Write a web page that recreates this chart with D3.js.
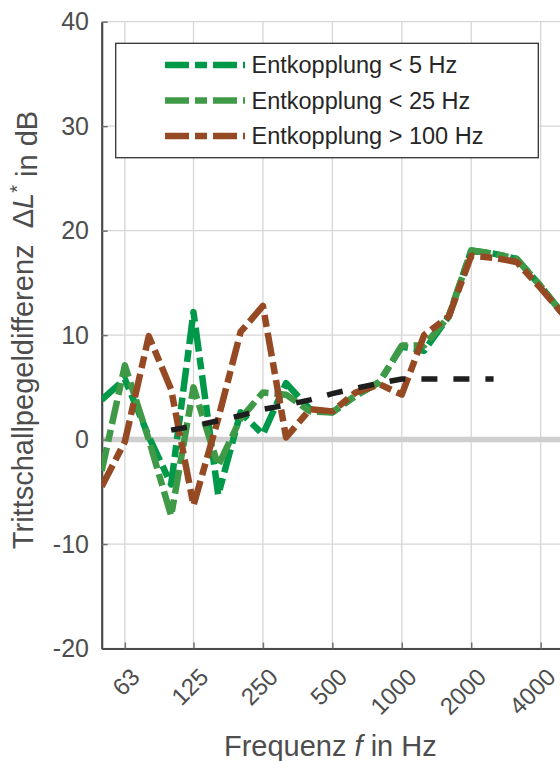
<!DOCTYPE html>
<html>
<head>
<meta charset="utf-8">
<script src="https://cdn.jsdelivr.net/npm/d3@7/dist/d3.min.js"></script>
<style>
body { margin: 0; background: #fff; }
svg { display: block; font-family: "Liberation Sans", Arial, sans-serif; }
</style>
</head>
<body>
<div id="chart"></div>
<script>
// Terzbänder in Hz
var baender = [50, 63, 80, 100, 125, 160, 200, 250, 315, 400, 500, 630, 800, 1000, 1250, 1600, 2000, 2500, 3150, 4000, 5000];

// Trittschallpegeldifferenz je Variante (dB)
var entkopplung5 = [3.8, 5.8, 0.3, -4.3, 12.2, -5.3, 2.6, 0.5, 5.4, 2.9, 2.6, 4.2, 5.5, 8.9, 8.5, 11.8, 18.1, 17.8, 17.3, 14.7, 12.0];
var entkopplung25 = [-3.0, 7.1, 0.0, -7.3, 5.0, -2.5, 2.0, 4.5, 4.3, 2.7, 2.6, 4.2, 5.5, 9.0, 9.0, 11.8, 18.1, 17.8, 17.3, 14.7, 12.0];
var entkopplung100 = [-4.5, -0.2, 9.9, 4.8, -6.3, 2.0, 10.3, 12.8, 0.2, 2.9, 2.7, 4.5, 5.3, 4.3, 10.0, 11.8, 17.6, 17.4, 17.0, 14.5, 12.0];

// schwarze Bezugskurve
var bezugBaender = [100, 125, 160, 200, 250, 315, 400, 500, 630, 800, 1000, 1250, 1600, 2000, 2500];
var bezugWerte = [0.9, 1.3, 1.8, 2.3, 2.9, 3.3, 3.8, 4.4, 4.9, 5.4, 5.8, 5.8, 5.8, 5.8, 5.8];

var xTicks = [63, 125, 250, 500, 1000, 2000, 4000];
var yTicks = [-20, -10, 0, 10, 20, 30, 40];
var legendeTexte = ["Entkopplung < 5 Hz", "Entkopplung < 25 Hz", "Entkopplung > 100 Hz"];
var farben = ["#00994a", "#3f9a47", "#964a23"];

// Dimensionen
var margin = {top: 21.7, left: 101.7};
var width = 461.3;
var height = 626.8;

var svg = d3.select('#chart').append('svg')
  .attr('width', 560)
  .attr('height', 761);

var chart = svg.append('g')
  .attr('transform', 'translate(' + margin.left + ',' + margin.top + ')');

var x = d3.scaleLog().domain([50, 5000]).range([0, width]);
var y = d3.scaleLinear().domain([-20, 40]).range([height, 0]);

// Gitter
chart.append('g').selectAll('line.vgrid')
  .data(xTicks).enter().append('line')
  .attr('x1', function(d) { return x(d); })
  .attr('x2', function(d) { return x(d); })
  .attr('y1', 0).attr('y2', height)
  .style('stroke', '#d6d6d6').style('stroke-width', 1.3);

chart.append('g').selectAll('line.hgrid')
  .data(yTicks).enter().append('line')
  .attr('x1', 0).attr('x2', width)
  .attr('y1', function(d) { return y(d); })
  .attr('y2', function(d) { return y(d); })
  .style('stroke', '#d6d6d6').style('stroke-width', 1.3);

// Nulllinie
chart.append('line')
  .attr('x1', 0).attr('x2', width)
  .attr('y1', y(0)).attr('y2', y(0))
  .style('stroke', '#cfcfcf').style('stroke-width', 5.5);

// Achsen (Bindestrich statt Minuszeichen wie im Original)
var plainFormat = function(d) { return String(d); };
var yAxis = d3.axisLeft(y).tickValues(yTicks).tickSizeInner(-6).tickSizeOuter(0).tickPadding(12.7).tickFormat(plainFormat);
var xAxis = d3.axisBottom(x).tickValues(xTicks).tickSizeInner(-6).tickSizeOuter(0).tickFormat(plainFormat);

var gy = chart.append('g').attr('class', 'y axis').call(yAxis);
var gx = chart.append('g').attr('class', 'x axis')
  .attr('transform', 'translate(0,' + height + ')').call(xAxis);

[gy, gx].forEach(function(g) {
  g.select('.domain').style('stroke', '#4a4a4a').style('stroke-width', 2.2);
  g.selectAll('.tick line').style('stroke', '#707070').style('stroke-width', 1.5);
  g.selectAll('.tick text').style('fill', '#4d4d4d').style('font-size', '25px')
    .style('font-family', '"Liberation Sans", Arial, sans-serif');
});

gx.selectAll('.tick text')
  .attr('y', null).attr('dy', '0.35em')
  .style('text-anchor', 'end')
  .attr('transform', 'translate(10,24) rotate(-45)')
  .style('font-size', '24px');

// Datenreihen
chart.append('clipPath').attr('id', 'plotClip')
  .append('rect').attr('x', 0).attr('y', 0).attr('width', width).attr('height', height);

var line = d3.line()
  .x(function(d) { return x(d.f); })
  .y(function(d) { return y(d.v); });

var reihen = [entkopplung5, entkopplung25, entkopplung100];
var dataSeries = chart.append('g').attr('clip-path', 'url(#plotClip)');

reihen.forEach(function(werte, i) {
  var punkte = baender.map(function(f, j) { return {f: f, v: werte[j]}; });
  dataSeries.append('path')
    .datum(punkte)
    .attr('d', line)
    .style('fill', 'none')
    .style('stroke', farben[i])
    .style('stroke-width', 6.5)
    .style('stroke-dasharray', '24,6,12,6')
    .style('stroke-linejoin', 'round');
});

var bezug = bezugBaender.map(function(f, j) { return {f: f, v: bezugWerte[j]}; });
dataSeries.append('path')
  .datum(bezug)
  .attr('d', line)
  .style('fill', 'none')
  .style('stroke', '#1e1e1e')
  .style('stroke-width', 5.5)
  .style('stroke-dasharray', '16,16');

// Legende
var legende = svg.append('g');
legende.append('rect')
  .attr('x', 115.7).attr('y', 43.3)
  .attr('width', 422.6).attr('height', 114.4)
  .style('fill', '#fff').style('stroke', '#333').style('stroke-width', 1.3);

var legY = [65, 100.5, 136];
legendeTexte.forEach(function(t, i) {
  legende.append('line')
    .attr('x1', 165).attr('x2', 245)
    .attr('y1', legY[i]).attr('y2', legY[i])
    .style('stroke', farben[i]).style('stroke-width', 6.5)
    .style('stroke-dasharray', '24,6,12,6');
  legende.append('text')
    .attr('x', 251.5).attr('y', legY[i]).attr('dy', '0.35em')
    .style('font-size', '23.5px').style('fill', '#262626')
    .text(t);
});

// Achsenbeschriftungen
var yLabel = svg.append('text')
  .attr('transform', 'translate(33,330) rotate(-90)')
  .style('text-anchor', 'middle')
  .style('font-size', '29px')
  .style('fill', '#4d4d4d');
yLabel.append('tspan').text('Trittschallpegeldifferenz\u00a0\u00a0\u0394');
yLabel.append('tspan').style('font-style', 'italic').text('L');
yLabel.append('tspan').attr('dy', '-0.45em').style('font-size', '20px').text('*');
yLabel.append('tspan').attr('dy', '0.45em').text('\u00a0in dB');

var xLabel = svg.append('text')
  .attr('x', margin.left + width / 2 - 2).attr('y', 756)
  .style('text-anchor', 'middle')
  .style('font-size', '29px')
  .style('fill', '#4d4d4d');
xLabel.append('tspan').text('Frequenz ');
xLabel.append('tspan').style('font-style', 'italic').text('f');
xLabel.append('tspan').text(' in Hz');
</script>
</body>
</html>
